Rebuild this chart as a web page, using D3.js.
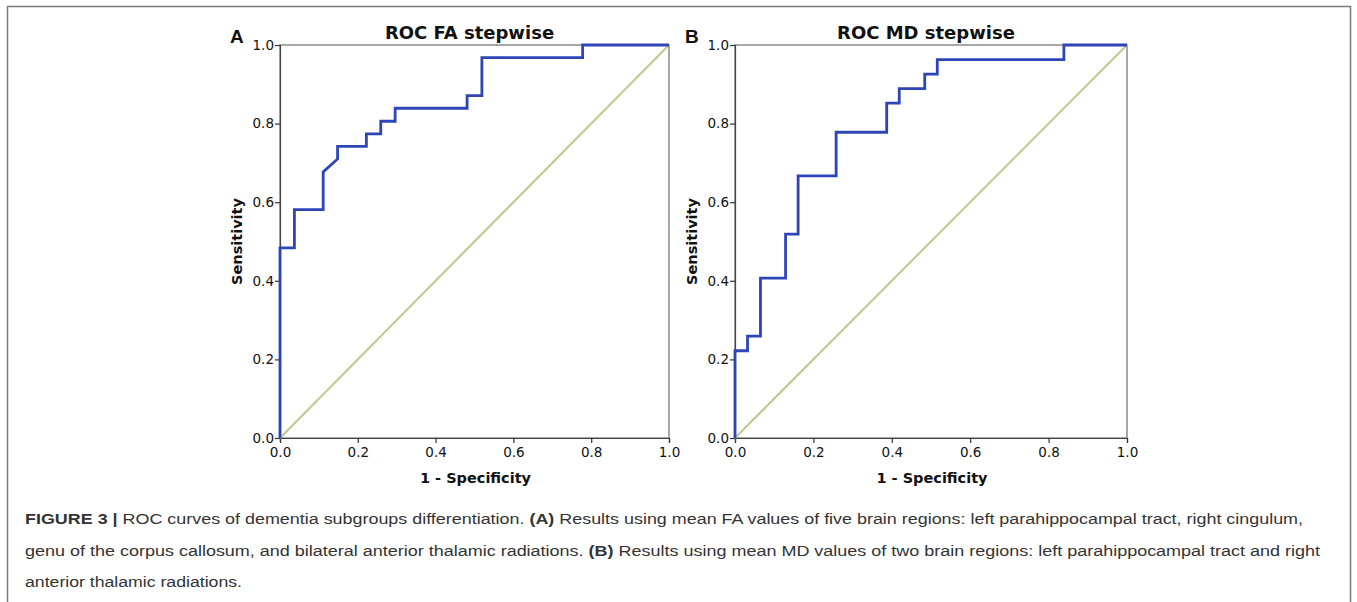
<!DOCTYPE html>
<html><head><meta charset="utf-8">
<script src="https://cdn.jsdelivr.net/npm/d3@7"></script>
<style>body{margin:0;background:#fff;} svg{display:block;}</style>
</head><body>
<svg id="chart" width="1357" height="602"></svg>
<script>
// ---- data ----
const ticks = [0.0, 0.2, 0.4, 0.6, 0.8, 1.0];
const titles = ["ROC FA stepwise", "ROC MD stepwise"];
const panelLabels = ["A", "B"];
// ROC step points (1 - specificity, sensitivity)
const faFpr  = [0, 0, 0.037, 0.037, 0.111, 0.111, 0.148, 0.148, 0.222, 0.222, 0.259, 0.259, 0.296, 0.296, 0.481, 0.481, 0.519, 0.519, 0.778, 0.778, 1.0];
const faTpr  = [0, 0.484, 0.484, 0.581, 0.581, 0.677, 0.710, 0.742, 0.742, 0.774, 0.774, 0.806, 0.806, 0.839, 0.839, 0.871, 0.871, 0.968, 0.968, 1.0, 1.0];
const mdFpr  = [0, 0, 0.032, 0.032, 0.065, 0.065, 0.129, 0.129, 0.161, 0.161, 0.258, 0.258, 0.387, 0.387, 0.419, 0.419, 0.484, 0.484, 0.516, 0.516, 0.839, 0.839, 1.0];
const mdTpr  = [0, 0.222, 0.222, 0.259, 0.259, 0.407, 0.407, 0.519, 0.519, 0.667, 0.667, 0.778, 0.778, 0.852, 0.852, 0.889, 0.889, 0.926, 0.926, 0.963, 0.963, 1.0, 1.0];
const refLine = [0, 1];
const captionLines = [
  [["FIGURE 3 | ", true], ["ROC curves of dementia subgroups differentiation. ", false], ["(A)", true], [" Results using mean FA values of five brain regions: left parahippocampal tract, right cingulum,", false]],
  [["genu of the corpus callosum, and bilateral anterior thalamic radiations. ", false], ["(B)", true], [" Results using mean MD values of two brain regions: left parahippocampal tract and right", false]],
  [["anterior thalamic radiations.", false]]
];

const svg = d3.select("#chart");

// outer frame
svg.append("path").attr("d", "M7.5,602 V6.5 H1350.5 V602")
  .attr("fill", "none").attr("stroke", "#7a7a7a").attr("stroke-width", 1.5);

const panels = [
  {left: 280, right: 669, fpr: faFpr, tpr: faTpr},
  {left: 735, right: 1127, fpr: mdFpr, tpr: mdTpr}
];
const plotTop = 45, plotBottom = 438;
const tickFont = "'DejaVu Sans', sans-serif";

panels.forEach((p, i) => {
  const x = d3.scaleLinear().domain([0, 1]).range([p.left, p.right]);
  const y = d3.scaleLinear().domain([0, 1]).range([plotBottom, plotTop]);
  const g = svg.append("g");

  // frame (top/right)
  g.append("rect").attr("x", p.left).attr("y", plotTop)
    .attr("width", p.right - p.left).attr("height", plotBottom - plotTop)
    .attr("fill", "none").attr("stroke", "#6e6e6e").attr("stroke-width", 1.2);

  const xAxis = g.append("g").attr("transform", `translate(0,${plotBottom})`)
    .call(d3.axisBottom(x).tickValues(ticks).tickFormat(d3.format(".1f")).tickSizeOuter(0).tickSize(5));
  const yAxis = g.append("g").attr("transform", `translate(${p.left},0)`)
    .call(d3.axisLeft(y).tickValues(ticks).tickFormat(d3.format(".1f")).tickSizeOuter(0).tickSize(5));
  [xAxis, yAxis].forEach(a => {
    a.select(".domain").attr("stroke", "#444").attr("stroke-width", 1.2);
    a.selectAll(".tick line").attr("stroke", "#333").attr("stroke-width", 1.2);
    a.selectAll(".tick text").attr("font-family", tickFont).attr("font-size", 13.5).attr("fill", "#111");
  });
  xAxis.selectAll(".tick text").attr("dy", "0.85em").attr("y", 8);
  yAxis.selectAll(".tick text").attr("x", -6);

  // reference diagonal
  g.append("line").attr("x1", x(refLine[0])).attr("y1", y(refLine[0]))
    .attr("x2", x(refLine[1])).attr("y2", y(refLine[1]))
    .attr("stroke", "#c6c895").attr("stroke-width", 2.2);

  // ROC curve
  const pts = p.fpr.map((f, k) => [f, p.tpr[k]]);
  g.append("path").datum(pts)
    .attr("d", d3.line().x(d => x(d[0])).y(d => y(d[1])))
    .attr("fill", "none").attr("stroke", "#2e45b8").attr("stroke-width", 2.8)
    .attr("stroke-linejoin", "miter");

  // title
  g.append("text").attr("x", (p.left + p.right) / 2 - 5).attr("y", 39)
    .attr("text-anchor", "middle").attr("font-family", tickFont)
    .attr("font-weight", "bold").attr("font-size", 18).attr("fill", "#111")
    .text(titles[i]);
  // panel letter
  g.append("text").attr("x", p.left - 50).attr("y", 43)
    .attr("font-family", "'Liberation Sans', Arial, sans-serif")
    .attr("font-weight", "bold").attr("font-size", 19).attr("fill", "#111")
    .text(panelLabels[i]);
  // axis labels
  g.append("text").attr("x", (p.left + p.right) / 2 + 1).attr("y", 483)
    .attr("text-anchor", "middle").attr("font-family", tickFont)
    .attr("font-weight", "bold").attr("font-size", 14.5).attr("fill", "#111")
    .text("1 - Specificity");
  g.append("text").attr("transform", `translate(${p.left - 38},${(plotTop + plotBottom) / 2}) rotate(-90)`)
    .attr("text-anchor", "middle").attr("font-family", tickFont)
    .attr("font-weight", "bold").attr("font-size", 14.5).attr("fill", "#111")
    .text("Sensitivity");
});

// caption
const capWidths = [1278, 1295, 217];
const capY = [524, 556, 587];
captionLines.forEach((line, li) => {
  const t = svg.append("text").attr("x", 25).attr("y", capY[li])
    .attr("font-family", "'Liberation Sans', Arial, sans-serif")
    .attr("font-size", 15.5).attr("fill", "#333")
    .attr("textLength", capWidths[li]).attr("lengthAdjust", "spacingAndGlyphs");
  line.forEach(([s, b]) => {
    t.append("tspan").attr("font-weight", b ? "bold" : "normal").text(s);
  });
});
</script>
</body></html>
